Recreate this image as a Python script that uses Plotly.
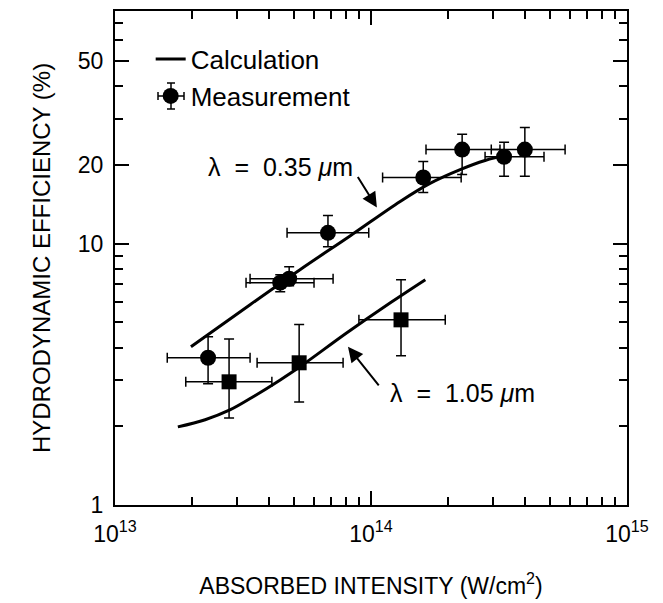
import plotly.graph_objects as go

# ---------------- data ----------------
# Calculation curves (absorbed intensity W/cm^2, efficiency %)
calc_035_x = [1.98e13, 3.37e13, 5.28e13, 8.28e13, 1.30e14, 1.70e14, 2.23e14, 2.79e14, 3.43e14]
calc_035_y = [4.03, 5.84, 7.95, 10.7, 14.5, 17.0, 19.2, 20.8, 21.9]

calc_105_x = [1.76e13, 2.25e13, 2.81e13, 3.52e13, 4.42e13, 5.28e13, 8.05e13, 1.19e14, 1.63e14]
calc_105_y = [1.99, 2.12, 2.31, 2.62, 3.01, 3.38, 4.56, 5.94, 7.28]

# Measurements, 0.35 um (circles)
meas_035_x = [2.31e13, 4.42e13, 4.79e13, 6.79e13, 1.60e14, 2.27e14, 3.31e14, 3.99e14]
meas_035_y = [3.66, 7.09, 7.34, 11.0, 17.9, 22.9, 21.5, 22.9]
meas_035_xlow = [1.60e13, 3.25e13, 3.37e13, 4.70e13, 1.11e14, 1.64e14, 2.79e14, 2.95e14]
meas_035_xhigh = [3.37e13, 5.99e13, 7.11e13, 9.80e13, 2.25e14, 3.19e14, 4.74e14, 5.73e14]
meas_035_ylow = [2.91, 6.55, 6.9, 9.73, 15.7, 18.4, 18.1, 18.1]
meas_035_yhigh = [4.40, 7.6, 8.16, 12.8, 20.6, 26.2, 24.4, 27.8]

# Measurements, 1.05 um (squares)
meas_105_x = [2.79e13, 5.24e13, 1.31e14]
meas_105_y = [2.96, 3.50, 5.11]
meas_105_xlow = [1.89e13, 3.59e13, 8.97e13]
meas_105_xhigh = [4.10e13, 7.78e13, 1.95e14]
meas_105_ylow = [2.15, 2.48, 3.72]
meas_105_yhigh = [4.32, 4.90, 7.28]

x_tick_vals = [1e13, 1e14, 1e15]
x_tick_text = ["10<sup>13</sup>", "10<sup>14</sup>", "10<sup>15</sup>"]
y_tick_vals = [1, 10, 20, 50]
y_tick_text = ["1", "10", "20", "50"]

# ---------------- figure ----------------
FONT = "Liberation Sans, Arial, Helvetica, sans-serif"
BLACK = "black"

fig = go.Figure()

fig.add_trace(go.Scatter(
    x=calc_035_x, y=calc_035_y, mode="lines", line=dict(color=BLACK, width=3, shape="spline", smoothing=1.0),
    name="Calculation", showlegend=True, legendrank=1))
fig.add_trace(go.Scatter(
    x=calc_105_x, y=calc_105_y, mode="lines", line=dict(color=BLACK, width=3, shape="spline", smoothing=1.0),
    name="Calculation", showlegend=False))


def err(vals, lo, hi):
    return [h - v for v, h in zip(vals, hi)], [v - l for v, l in zip(vals, lo)]


ex_p, ex_m = err(meas_035_x, meas_035_xlow, meas_035_xhigh)
ey_p, ey_m = err(meas_035_y, meas_035_ylow, meas_035_yhigh)
fig.add_trace(go.Scatter(
    x=meas_035_x, y=meas_035_y, mode="markers",
    marker=dict(symbol="circle", size=16, color=BLACK),
    error_x=dict(type="data", symmetric=False, array=ex_p, arrayminus=ex_m, color=BLACK, thickness=1.5, width=5),
    error_y=dict(type="data", symmetric=False, array=ey_p, arrayminus=ey_m, color=BLACK, thickness=1.5, width=5),
    name="Measurement", showlegend=True, legendrank=2))

ex_p, ex_m = err(meas_105_x, meas_105_xlow, meas_105_xhigh)
ey_p, ey_m = err(meas_105_y, meas_105_ylow, meas_105_yhigh)
fig.add_trace(go.Scatter(
    x=meas_105_x, y=meas_105_y, mode="markers",
    marker=dict(symbol="square", size=15, color=BLACK),
    error_x=dict(type="data", symmetric=False, array=ex_p, arrayminus=ex_m, color=BLACK, thickness=1.5, width=5),
    error_y=dict(type="data", symmetric=False, array=ey_p, arrayminus=ey_m, color=BLACK, thickness=1.5, width=5),
    name="Measurement", showlegend=False))

x_minor = [m * 10 ** e for e in (13, 14) for m in range(2, 10)]
y_minor = [m for m in range(2, 10)] + [30, 40, 60, 70]

axis_common = dict(
    showline=True, linecolor=BLACK, linewidth=2, mirror="ticks",
    ticks="inside", ticklen=14, tickwidth=1.5, tickcolor=BLACK,
    showgrid=False, zeroline=False, automargin=False,
    tickfont=dict(family=FONT, size=23, color=BLACK),
)

# plot-area geometry (pixels) used only to place the legend error-bar glyph
L, R, T, B = 115, 36, 11, 98
W, H = 663, 603
PW, PH = W - L - R, H - T - B


def px(x):
    return (x - L) / PW


def py(y):
    return (H - B - y) / PH


fig.update_layout(
    width=W, height=H,
    margin=dict(l=L, r=R, t=T, b=B, autoexpand=False),
    paper_bgcolor="white", plot_bgcolor="white",
    font=dict(family=FONT, size=22, color=BLACK),
    xaxis=dict(
        type="log", range=[13, 15], tickmode="array", tickvals=x_tick_vals, ticktext=x_tick_text,
        ticklabelstandoff=7,
        minor=dict(tickmode="array", tickvals=x_minor, ticks="inside", ticklen=8, tickwidth=1.5, tickcolor=BLACK),
        title=dict(text="ABSORBED INTENSITY (W/cm<sup>2</sup>)", font=dict(family=FONT, size=23, color=BLACK), standoff=32),
        **axis_common),
    yaxis=dict(
        type="log", range=[0, 1.89], tickmode="array", tickvals=y_tick_vals, ticktext=y_tick_text,
        ticklabelstandoff=5,
        minor=dict(tickmode="array", tickvals=y_minor, ticks="inside", ticklen=8, tickwidth=1.5, tickcolor=BLACK),
        title=dict(text="HYDRODYNAMIC EFFICIENCY (%)", font=dict(family=FONT, size=24, color=BLACK), standoff=20),
        **axis_common),
    legend=dict(x=0.0697, y=0.95, xanchor="left", yanchor="top", bgcolor="rgba(0,0,0,0)",
                font=dict(family=FONT, size=26, color=BLACK), itemwidth=30, tracegroupgap=0),
    showlegend=True,
)

# legend glyph: error bars through the "Measurement" marker
gx, gy = 171, 96
seg = [
    ((gx - 13, gy), (gx + 13, gy)),
    ((gx - 13, gy - 4), (gx - 13, gy + 4)),
    ((gx + 13, gy - 4), (gx + 13, gy + 4)),
    ((gx, gy - 13), (gx, gy + 13)),
    ((gx - 4, gy - 13), (gx + 4, gy - 13)),
    ((gx - 4, gy + 13), (gx + 4, gy + 13)),
]
for (a, b) in seg:
    fig.add_shape(type="line", xref="paper", yref="paper",
                  x0=px(a[0]), y0=py(a[1]), x1=px(b[0]), y1=py(b[1]),
                  line=dict(color=BLACK, width=1.5))

# annotations: labels and arrows
fig.add_annotation(x=13.645, y=1.295, xref="x", yref="y", text="λ  =  0.35 <i>μ</i>m",
                   showarrow=False, font=dict(family=FONT, size=25, color=BLACK))
fig.add_annotation(x=14.023, y=1.138, xref="x", yref="y", text="", showarrow=True,
                   ax=-20, ay=-32, arrowhead=2, arrowsize=1.5, arrowwidth=2, arrowcolor=BLACK)
fig.add_annotation(x=14.359, y=0.429, xref="x", yref="y", text="λ  =  1.05 <i>μ</i>m",
                   showarrow=False, font=dict(family=FONT, size=25, color=BLACK))
fig.add_annotation(x=13.910, y=0.605, xref="x", yref="y", text="", showarrow=True,
                   ax=32, ay=40, arrowhead=2, arrowsize=1.5, arrowwidth=2, arrowcolor=BLACK)

fig.write_html("out.html")
